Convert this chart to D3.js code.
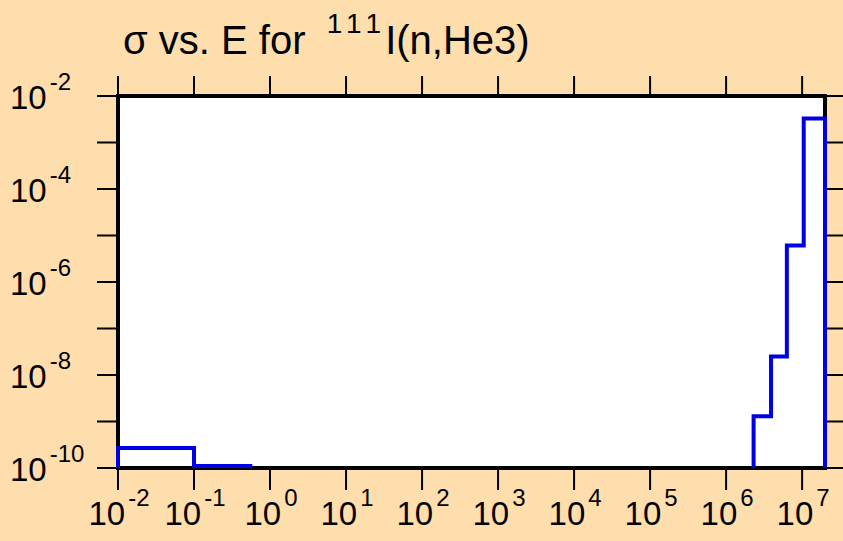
<!DOCTYPE html>
<html><head><meta charset="utf-8">
<script src="https://cdn.jsdelivr.net/npm/d3@7"></script>
<style>
html,body{margin:0;padding:0;background:#FFDEAD;}
text{font-family:"Liberation Sans",Arial,sans-serif;fill:#000;}
</style></head>
<body>
<script>
// Data (energy bin edges in eV, cross sections in b)
const lowEdges = [1e-2, 1e-1, 5.5e-1];
const lowSigma = [2.7e-10, 1.1e-10];
const highEdges = [2.3e6, 3.9e6, 6.3e6, 1.05e7, 2.0e7];
const highSigma = [1.3e-9, 2.5e-8, 6.1e-6, 3.3e-3];
const xTickExps = [-2, -1, 0, 1, 2, 3, 4, 5, 6, 7];
const yTickExps = [-10, -9, -8, -7, -6, -5, -4, -3, -2];
const yLabelExps = [-10, -8, -6, -4, -2];
const titleMain = "σ vs. E for ";
const titleSup = "111";
const titleRest = "I(n,He3)";

const W = 843, H = 541;
const L = 118, R = 825, T = 96, B = 468;
const svg = d3.select("body").append("svg").attr("width", W).attr("height", H);
svg.append("rect").attr("width", W).attr("height", H).attr("fill", "#FFDEAD");

const x = d3.scaleLog().domain([1e-2, 2e7]).range([L, R]);
const y = d3.scaleLog().domain([1e-10, 1e-2]).range([B, T]);

svg.append("rect").attr("x", L).attr("y", T).attr("width", R - L).attr("height", B - T).attr("fill", "#fff");

// ticks
const tickG = svg.append("g").attr("stroke", "#000").attr("stroke-width", 2);
xTickExps.forEach(e => {
  const xx = x(Math.pow(10, e));
  tickG.append("line").attr("x1", xx).attr("x2", xx).attr("y1", B).attr("y2", B + 22);
  tickG.append("line").attr("x1", xx).attr("x2", xx).attr("y1", T).attr("y2", T - 20);
});
yTickExps.forEach(e => {
  const yy = y(Math.pow(10, e));
  tickG.append("line").attr("x1", L - 21).attr("x2", L).attr("y1", yy).attr("y2", yy);
  tickG.append("line").attr("x1", R).attr("x2", W).attr("y1", yy).attr("y2", yy);
});

// frame
svg.append("rect").attr("x", L).attr("y", T).attr("width", R - L).attr("height", B - T)
  .attr("fill", "none").attr("stroke", "#000").attr("stroke-width", 4);

// labels
function powLabel(g, exp, xx, yy, anchor) {
  const t = g.append("text").attr("x", xx).attr("y", yy).attr("text-anchor", anchor)
    .style("font-size", "33px");
  t.append("tspan").text("10");
  t.append("tspan").attr("dx", 3).attr("dy", -19).style("font-size", "24px").text(String(exp));
  return t;
}
const lab = svg.append("g");
xTickExps.forEach(e => powLabel(lab, e, x(Math.pow(10, e)) + 1, 525, "middle"));
yLabelExps.forEach(e => powLabel(lab, e, 10, y(Math.pow(10, e)) + 13, "start"));

// title
const tt = svg.append("text").attr("x", 123).attr("y", 54).style("font-size", "40px");
tt.append("tspan").text(titleMain);
tt.append("tspan").attr("dx", 10).attr("dy", -21).style("font-size", "28px")
  .style("letter-spacing", "6px").text(titleSup);
tt.append("tspan").attr("dx", -2).attr("dy", 21).style("letter-spacing", "0px").text(titleRest);

// step line
function stepPoints(edges, vals) {
  const pts = [[edges[0], 1e-10]];
  vals.forEach((v, i) => { pts.push([edges[i], v]); pts.push([edges[i + 1], v]); });
  pts.push([edges[edges.length - 1], 1e-10]);
  return pts;
}
const line = d3.line().x(d => x(d[0])).y(d => y(Math.max(d[1], 1e-10)));
[[lowEdges, lowSigma], [highEdges, highSigma]].forEach(([e, v]) => {
  svg.append("path").attr("d", line(stepPoints(e, v))).attr("fill", "none")
    .attr("stroke", "#0000e6").attr("stroke-width", 4).attr("stroke-linejoin", "miter");
});
</script>
</body></html>
